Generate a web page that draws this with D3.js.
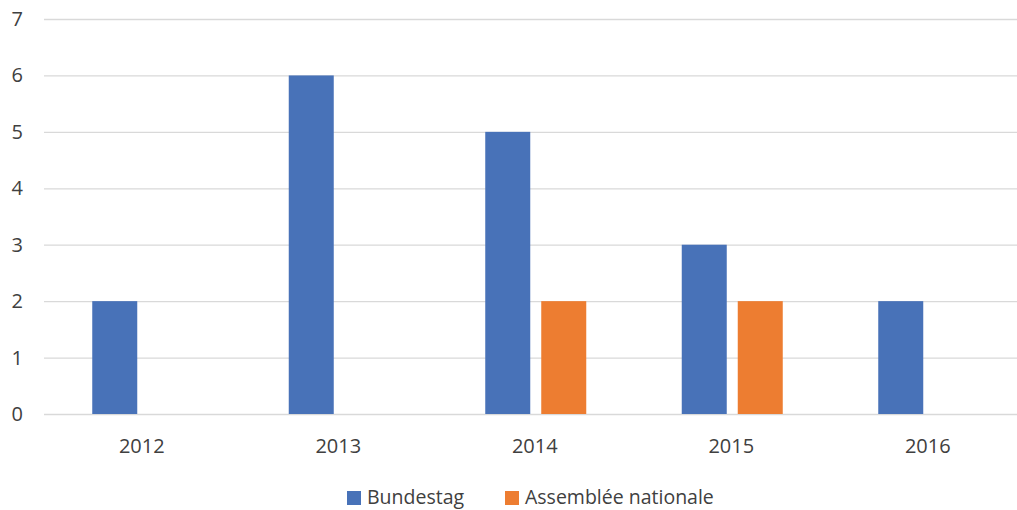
<!DOCTYPE html>
<html>
<head>
<meta charset="utf-8">
<script src="https://cdn.jsdelivr.net/npm/d3@7"></script>
<style>
  body{margin:0;background:#fff;}
  text{font-family:'Open Sans','Noto Sans',sans-serif;}
</style>
</head>
<body>
<svg id="chart" width="1017" height="510"></svg>
<script>
var years=['2012','2013','2014','2015','2016'];
var seriesNames=['Bundestag','Assemblée nationale'];
var bundestag=[2,6,5,3,2];
var assemblee=[0,0,2,2,0];
var yTicks=[0,1,2,3,4,5,6,7];
var colors=['#4872b8','#ed7d31'];

var svg=d3.select('#chart');
var plotLeft=44, plotRight=1017, plotTop=19, plotBottom=414;

var x0=d3.scaleBand().domain(years).range([44.5,1027]);
var x1=d3.scaleBand().domain(seriesNames).range([47.75,148.75]).paddingInner(11/56);
var y=d3.scaleLinear().domain([0,7]).range([plotBottom,plotTop]);

// gridlines
svg.append('g').selectAll('line')
    .data(yTicks)
    .enter()
    .append('line')
    .attr('x1',plotLeft)
    .attr('x2',plotRight)
    .attr('y1',function(d){return y(d)+0.5;})
    .attr('y2',function(d){return y(d)+0.5;})
    .attr('stroke','#d9d9d9')
    .attr('stroke-width',1.3);

// y labels
svg.append('g').selectAll('text')
    .data(yTicks)
    .enter()
    .append('text')
    .attr('x',23)
    .attr('y',function(d){return y(d);})
    .attr('dy','0.35em')
    .attr('text-anchor','end')
    .style('font-size','20px')
    .style('fill','#404040')
    .text(function(d){return d;});

// bars
var rows=years.map(function(yr,i){
    return {year:yr,values:[bundestag[i],assemblee[i]]};
});
svg.append('g').selectAll('g')
    .data(rows)
    .enter()
    .append('g')
    .attr('transform',function(d){return 'translate('+x0(d.year)+',0)';})
    .selectAll('rect')
    .data(function(d){
        return d.values.map(function(v,j){return {name:seriesNames[j],value:v,color:colors[j]};});
    })
    .enter()
    .append('rect')
    .attr('x',function(d){return x1(d.name);})
    .attr('width',x1.bandwidth())
    .attr('y',function(d){return y(d.value);})
    .attr('height',function(d){return y(0)-y(d.value);})
    .attr('fill',function(d){return d.color;});

// x labels
svg.append('g').selectAll('text')
    .data(years)
    .enter()
    .append('text')
    .attr('x',function(d){return x0(d)+x0.bandwidth()/2-1;})
    .attr('y',446)
    .attr('dy','0.35em')
    .attr('text-anchor','middle')
    .style('font-size','20px')
    .style('fill','#404040')
    .text(function(d){return d;});

// legend
var legendX=[347,505];
var legend=svg.append('g').selectAll('g')
    .data(seriesNames)
    .enter()
    .append('g')
    .attr('transform',function(d,i){return 'translate('+legendX[i]+',491)';});
legend.append('rect')
    .attr('width',14)
    .attr('height',14)
    .attr('fill',function(d,i){return colors[i];});
legend.append('text')
    .attr('x',20)
    .attr('y',13)
    .style('font-size','19.5px')
    .style('fill','#404040')
    .text(function(d){return d;});
</script>
</body>
</html>
